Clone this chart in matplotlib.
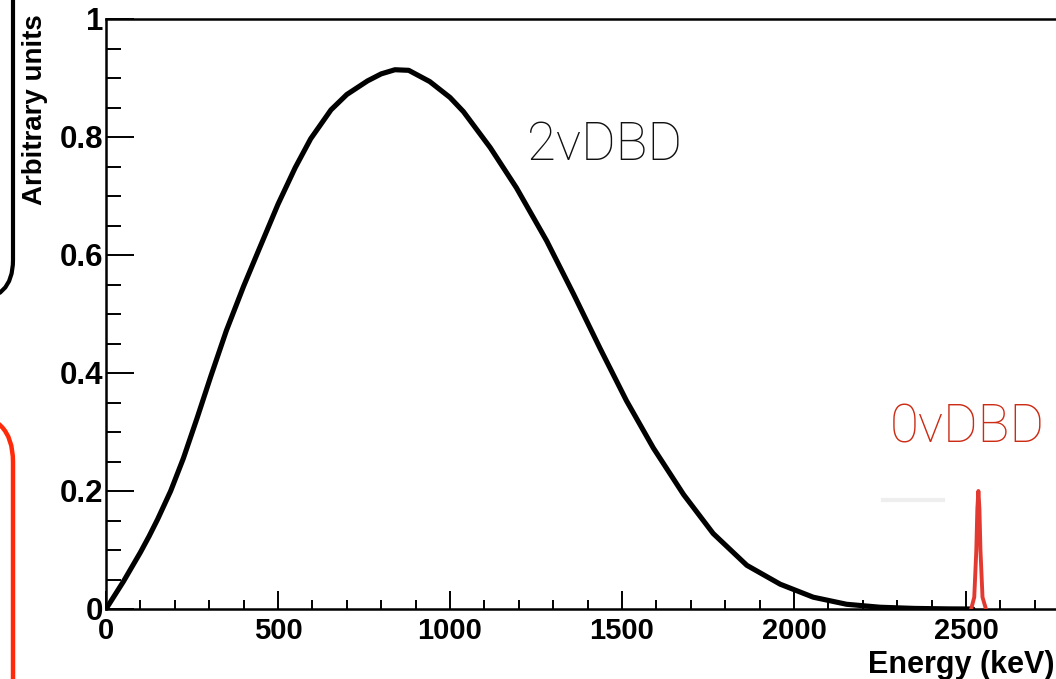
import matplotlib
matplotlib.use("Agg")
import matplotlib.pyplot as plt
from matplotlib.patches import FancyBboxPatch
from matplotlib.transforms import IdentityTransform
from matplotlib.ticker import MultipleLocator

# ---- data ----
energy_2v = [0, 25, 50, 75, 100, 125, 150, 188, 225, 265, 305, 350, 400, 443,
             500, 550, 595, 654, 700, 760, 800, 840, 880, 941, 1000, 1039, 1117,
             1193, 1281, 1359, 1436, 1513, 1591, 1679, 1765, 1863, 1960, 2056,
             2153, 2250, 2350, 2450, 2520]
counts_2v = [0, 0.023, 0.046, 0.071, 0.096, 0.123, 0.152, 0.200, 0.2555, 0.324,
             0.395, 0.472, 0.547, 0.607, 0.686, 0.748, 0.797, 0.846, 0.872,
             0.895, 0.907, 0.914, 0.913, 0.894, 0.867, 0.843, 0.782, 0.714,
             0.624, 0.534, 0.442, 0.353, 0.273, 0.194, 0.128, 0.074, 0.042,
             0.020, 0.008, 0.003, 0.001, 0.0002, 0.0]
energy_0v = [2515, 2524, 2530, 2533, 2536, 2539, 2542, 2548, 2558]
counts_0v = [0, 0.02, 0.10, 0.17, 0.20, 0.17, 0.10, 0.02, 0]

xticks = [0, 500, 1000, 1500, 2000, 2500]
xticklabels = ["0", "500", "1000", "1500", "2000", "2500"]
yticks = [0, 0.2, 0.4, 0.6, 0.8, 1.0]
yticklabels = ["0", "0.2", "0.4", "0.6", "0.8", "1"]

W, H = 1056, 679
fig = plt.figure(figsize=(W / 100, H / 100), dpi=100)
# axes: x=0 at px 106, x=3000 at px 1138 ; y=0 at py 609, y=1 at py 19
left = 106 / W
width = (1138 - 106) / W
bottom = (H - 609) / H
height = (609 - 19) / H
ax = fig.add_axes([left, bottom, width, height])
ax.set_xlim(0, 3000)
ax.set_ylim(0, 1)

ax.plot(energy_2v, counts_2v, color="black", lw=3.7, solid_joinstyle="round",
        solid_capstyle="round", zorder=3)
ax.plot(energy_0v, counts_0v, color="#e23a30", lw=2.8, zorder=4)
ax.plot([2259, 2433], [0.185, 0.185], color="#eeeeee", lw=3, zorder=2)

bold = {"family": "Liberation Sans", "weight": "bold"}
ax.set_xticks(xticks)
ax.set_xticklabels(xticklabels, fontdict=bold, fontsize=21)
ax.set_yticks(yticks)
ax.set_yticklabels(yticklabels, fontdict=bold, fontsize=22.5)
ax.xaxis.set_minor_locator(MultipleLocator(100))
ax.yaxis.set_minor_locator(MultipleLocator(0.05))
ax.tick_params(axis="x", which="major", direction="in", length=13, width=1.4, pad=6)
ax.tick_params(axis="x", which="minor", direction="in", length=6.5, width=1.4)
ax.tick_params(axis="y", which="major", direction="in", length=20, width=1.4, pad=2)
ax.tick_params(axis="y", which="minor", direction="in", length=11, width=1.4)
for s in ax.spines.values():
    s.set_linewidth(1.8)

fig.text(868 / W, (H - 673) / H, "Energy (keV)", fontdict=bold, fontsize=22,
         ha="left", va="baseline")
fig.text(35 / W, (H - 110) / H, "Arbitrary units", fontdict=bold, fontsize=20,
         rotation=90, ha="center", va="center")

ax.text(1224, 0.786, "2vDBD", fontsize=38, family="Roboto", weight="light",
        color="#111111", ha="left", va="center")
ax.text(2279, 0.307, "0vDBD", fontsize=38, family="Roboto", weight="light",
        color="#cc2b14", ha="left", va="center")

# slide decorations at left edge (pixel coordinates, origin bottom-left)
black_box = FancyBboxPatch((-400, H - 300), 413, 1000,
                           boxstyle="round,pad=0,rounding_size=40",
                           transform=IdentityTransform(), fill=False,
                           edgecolor="black", lw=3)
red_box = FancyBboxPatch((-400, -600), 413, 600 + (H - 414),
                         boxstyle="round,pad=0,rounding_size=48",
                         transform=IdentityTransform(), fill=False,
                         edgecolor="#ff2a0a", lw=3.2)
fig.add_artist(black_box)
fig.add_artist(red_box)

fig.savefig("out.png", dpi=100)
